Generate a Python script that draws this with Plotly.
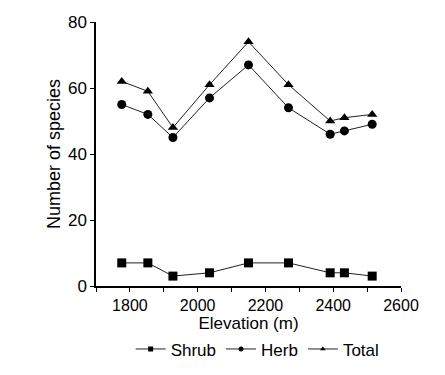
import plotly.graph_objects as go

elevation = [1776, 1853, 1927, 2035, 2150, 2268, 2391, 2433, 2515]
shrub = [7, 7, 3, 4, 7, 7, 4, 4, 3]
herb = [55, 52, 45, 57, 67, 54, 46, 47, 49]
total = [62, 59, 48, 61, 74, 61, 50, 51, 52]

series = [("Shrub", shrub, "square"), ("Herb", herb, "circle"), ("Total", total, "triangle-up")]

fig = go.Figure()
for name, vals, sym in series:
    fig.add_trace(go.Scatter(
        x=elevation, y=vals, name=name, mode="lines+markers", showlegend=False,
        line=dict(color="#222222", width=1),
        marker=dict(symbol=sym, size=9, color="black"),
    ))
# legend-only entries with small symbols
for name, vals, sym in series:
    fig.add_trace(go.Scatter(
        x=[None], y=[None], name=name, mode="lines+markers",
        line=dict(color="#222222", width=1),
        marker=dict(symbol=sym, size=5, color="black"),
    ))

fig.update_layout(
    width=437, height=367,
    margin=dict(l=88, r=44, t=14, b=89, autoexpand=False),
    paper_bgcolor="white", plot_bgcolor="white",
    font=dict(family="Liberation Sans, Arial, sans-serif", size=16, color="black"),
    showlegend=True,
    legend=dict(orientation="h", x=0.53, xanchor="center", y=-0.172, yanchor="top",
                font=dict(size=17), itemwidth=30, tracegroupgap=0),
)
fig.update_xaxes(
    range=[1700, 2600], tickvals=[1800, 2000, 2200, 2400, 2600],
    showline=True, linecolor="black", linewidth=1.5, ticks="outside", ticklen=4,
    tickcolor="black", showgrid=False, zeroline=False, automargin=False,
    minor=dict(dtick=100, tick0=1700, ticks="outside", ticklen=4, tickcolor="black"),
    title=dict(text="Elevation (m)", font=dict(size=17), standoff=0),
    tickfont=dict(size=16),
)
fig.update_yaxes(
    range=[0, 80], tickvals=[0, 20, 40, 60, 80],
    showline=True, linecolor="black", linewidth=1.5, ticks="outside", ticklen=4,
    tickcolor="black", showgrid=False, zeroline=False, automargin=False,
    title=dict(text="Number of species", font=dict(size=18), standoff=3),
    tickfont=dict(size=17),
)
fig.write_html("out.html")
